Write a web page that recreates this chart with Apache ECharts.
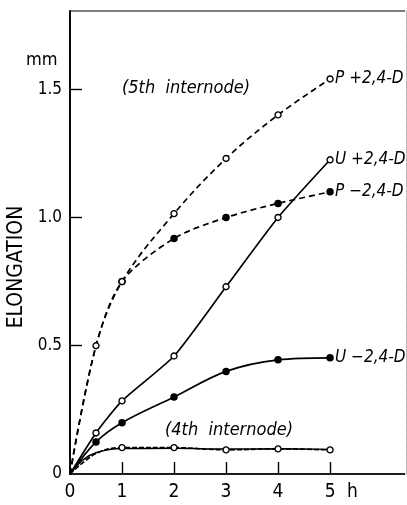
<!DOCTYPE html>
<html>
<head>
<meta charset="utf-8">
<script src="https://cdn.jsdelivr.net/npm/echarts@6/dist/echarts.min.js"></script>
<style>
html,body{margin:0;padding:0;background:#fff;}
#c{width:407px;height:505px;}
</style>
</head>
<body>
<div id="c"></div>
<script>
// Time (h) and elongation (mm)
const pPlusX  = [0, 0.5, 1, 2, 3, 4, 5];
const pPlusY  = [0, 0.50, 0.75, 1.015, 1.23, 1.40, 1.54];
const pMinusX = [0, 0.5, 1, 2, 3, 4, 5];
const pMinusY = [0, 0.50, 0.75, 0.918, 1.00, 1.055, 1.10];
const uPlusX  = [0, 0.5, 1, 2, 3, 4, 5];
const uPlusY  = [0, 0.16, 0.285, 0.46, 0.73, 1.00, 1.225];
const uMinusX = [0, 0.5, 1, 2, 3, 4, 5];
const uMinusY = [0, 0.125, 0.20, 0.30, 0.40, 0.445, 0.453];
// 4th internode
const int4DashX = [0, 0.5, 1, 2, 3, 4, 5];
const int4DashY = [0, 0.08, 0.103, 0.103, 0.094, 0.098, 0.094];
const int4SolidX = [0, 0.25, 0.5, 1, 2, 3, 4, 5];
const int4SolidY = [0, 0.055, 0.083, 0.099, 0.100, 0.097, 0.098, 0.096];

const seriesNames = ['P +2,4-D', 'P \u22122,4-D', 'U +2,4-D', 'U \u22122,4-D'];
const xTickLabels = [0, 1, 2, 3, 4, 5];
const yTickLabels = [0, 0.5, 1.0, 1.5];

const FONT = 'DejaVu Sans Condensed';

function pts(xs, ys, hideIdx) {
  return xs.map((x, i) => {
    const item = { value: [x, ys[i]] };
    if (hideIdx.indexOf(i) >= 0) item.symbol = 'none';
    return item;
  });
}
const openSym = { color: '#fff', borderColor: '#000', borderWidth: 1.4 };
const fillSym = { color: '#000', borderColor: '#000', borderWidth: 0 };
function endLbl(name) {
  return { show: true, formatter: name, color: '#000', fontFamily: FONT,
           fontStyle: 'italic', fontSize: 17, distance: 5 };
}
const XMAX = 6.46, YMAX = 1.805;

const chart = echarts.init(document.getElementById('c'), null, { renderer: 'canvas' });
chart.setOption({
  animation: false,
  backgroundColor: '#fff',
  grid: { left: 70, top: 11, right: 1, bottom: 31, containLabel: false,
          show: true, borderColor: '#000', borderWidth: 1.2, backgroundColor: 'transparent' },
  xAxis: [{
    type: 'value', min: 0, max: XMAX, position: 'bottom',
    splitLine: { show: false },
    axisLine: { show: true, onZero: false, lineStyle: { color: '#000', width: 1.6 } },
    axisTick: { show: true, inside: true, length: 12, customValues: [1, 2, 3, 4, 5],
                lineStyle: { color: '#000', width: 1.4 } },
    axisLabel: { customValues: xTickLabels.concat([5.43]), color: '#000', fontFamily: FONT,
                 fontSize: 19, margin: 9,
                 formatter: v => (v > 5.1 ? 'h' : String(v)) }
  }],
  yAxis: [{
    type: 'value', min: 0, max: YMAX, position: 'left',
    splitLine: { show: false },
    axisLine: { show: true, onZero: false, lineStyle: { color: '#000', width: 1.8 } },
    axisTick: { show: true, inside: true, length: 12, customValues: [0.5, 1.0, 1.5],
                lineStyle: { color: '#000', width: 1.4 } },
    axisLabel: { customValues: yTickLabels, color: '#000', fontFamily: FONT, fontSize: 17, margin: 8,
                 formatter: v => (v === 0 ? '0' : v.toFixed(1)) }
  }, {
    type: 'value', min: 0, max: YMAX, position: 'right', z: 5,
    splitLine: { show: false },
    axisLine: { show: true, onZero: false, lineStyle: { color: '#fff', width: 3 } },
    axisTick: { show: false }, axisLabel: { show: false }
  }, {
    type: 'value', min: 0, max: YMAX, position: 'right', z: 6,
    splitLine: { show: false },
    axisLine: { show: true, onZero: false, lineStyle: { color: '#aaa', width: 1, type: 'dotted' } },
    axisTick: { show: false }, axisLabel: { show: false }
  }],
  graphic: [
    { type: 'text', left: 26, top: 51, style: { text: 'mm', font: '18px "' + FONT + '"', fill: '#000' } },
    { type: 'text', x: 17, y: 267, rotation: Math.PI / 2, style: { text: 'ELONGATION',
      font: '21px "' + FONT + '"', fill: '#000', align: 'center', verticalAlign: 'middle' } },
    { type: 'text', left: 122, top: 79, style: { text: '(5th  internode)',
      font: 'italic 18px "' + FONT + '"', fill: '#000' } },
    { type: 'text', left: 165, top: 421, style: { text: '(4th  internode)',
      font: 'italic 18px "' + FONT + '"', fill: '#000' } }
  ],
  series: [
    { type: 'line', name: seriesNames[0], data: pts(pPlusX, pPlusY, [0]), smooth: 0.35,
      symbol: 'circle', symbolSize: 6, itemStyle: openSym,
      lineStyle: { color: '#000', width: 1.7, type: [6, 4] }, endLabel: endLbl(seriesNames[0]), z: 3 },
    { type: 'line', name: seriesNames[1], data: pts(pMinusX, pMinusY, [0, 1]), smooth: 0.3,
      symbol: 'circle', symbolSize: 7.5, itemStyle: fillSym,
      lineStyle: { color: '#000', width: 1.7, type: [6, 4] }, endLabel: endLbl(seriesNames[1]), z: 2 },
    { type: 'line', name: seriesNames[2], data: pts(uPlusX, uPlusY, [0]), smooth: 0.2,
      symbol: 'circle', symbolSize: 6, itemStyle: openSym,
      lineStyle: { color: '#000', width: 1.7 }, endLabel: endLbl(seriesNames[2]), z: 3 },
    { type: 'line', name: seriesNames[3], data: pts(uMinusX, uMinusY, [0]), smooth: 0.35,
      symbol: 'circle', symbolSize: 7.5, itemStyle: fillSym,
      lineStyle: { color: '#000', width: 1.7 }, endLabel: endLbl(seriesNames[3]), z: 2 },
    { type: 'line', name: '4th dashed', data: pts(int4DashX, int4DashY, [0, 1]), smooth: 0.35,
      symbol: 'circle', symbolSize: 6, itemStyle: openSym,
      lineStyle: { color: '#000', width: 1.6, type: [5, 2] }, z: 3 },
    { type: 'line', name: '4th solid', data: pts(int4SolidX, int4SolidY, []), smooth: 0.4,
      showSymbol: false, symbol: 'none',
      lineStyle: { color: '#000', width: 1.5 }, z: 2 }
  ]
});
</script>
</body>
</html>
